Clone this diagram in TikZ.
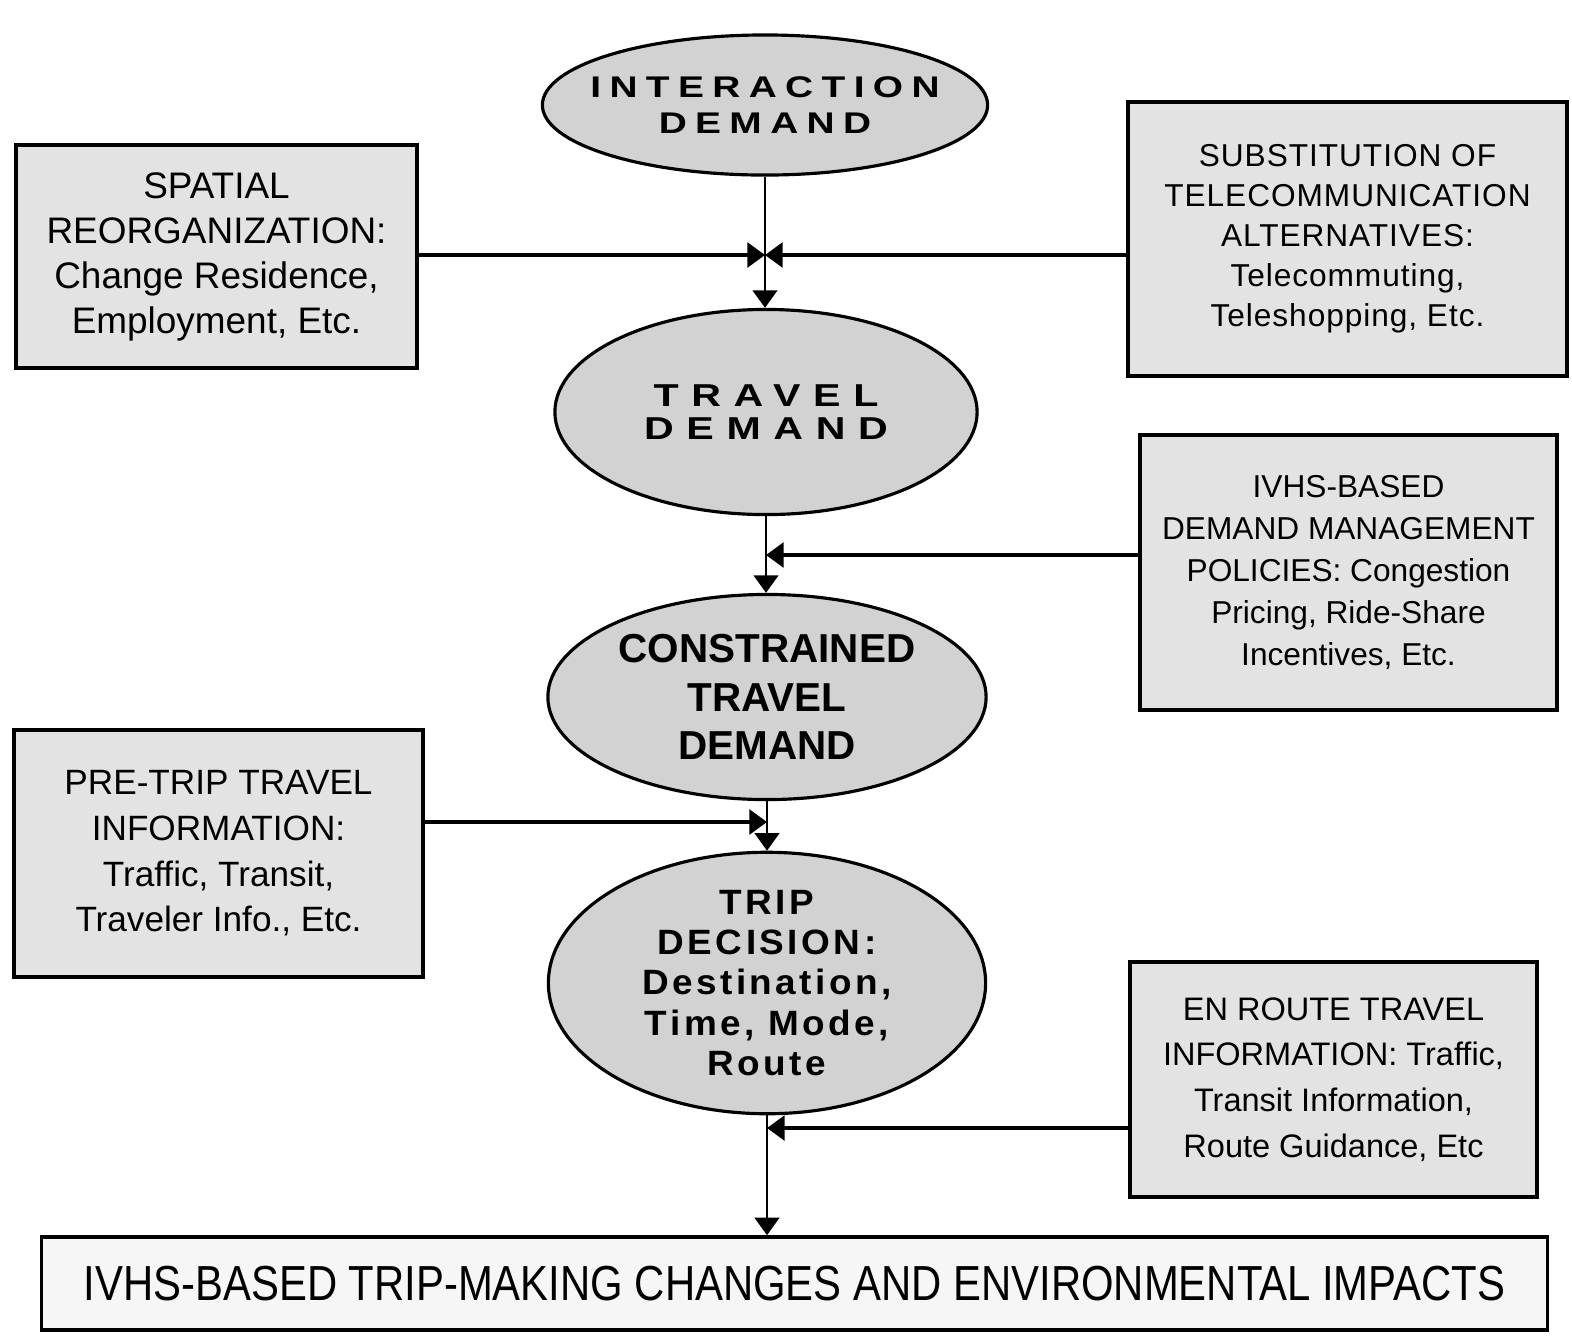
\documentclass[tikz,border=0pt]{standalone}
\usepackage{fontspec}
\setmainfont{Liberation Sans}
\newfontfamily\ellA[LetterSpace=28,FakeStretch=1.3]{Liberation Sans}
\newfontfamily\ellB[LetterSpace=40,FakeStretch=1.3]{Liberation Sans}
\newfontfamily\ellD[LetterSpace=10,FakeStretch=1.05]{Liberation Sans}
\newfontfamily\boxR[LetterSpace=3]{Liberation Sans}
\newfontfamily\bottomf[FakeStretch=0.85]{Liberation Sans}
\usetikzlibrary{shapes.geometric,arrows.meta}
\begin{document}
\begin{tikzpicture}[x=0.01cm,y=-0.01cm,
  ell/.style={ellipse, draw, line width=0.9pt, fill=gray!35, inner sep=0pt, align=center},
  bx/.style={rectangle, draw, line width=1pt, fill=gray!22, inner sep=0pt, align=center},
  arr/.style={-{Triangle[length=5pt,width=7pt]}, line width=0.7pt},
  harr/.style={-{Triangle[length=5pt,width=7pt]}, line width=1pt}]
\useasboundingbox (0,0) rectangle (1572,1335);

% ellipses
\node[ell, inner xsep=-10pt, minimum width=4.45cm, minimum height=1.40cm,
      font=\ellA\bfseries\fontsize{8.5}{10}\selectfont] (e1) at (765,105) {INTERACTION\\DEMAND};
\node[ell, minimum width=4.22cm, minimum height=2.05cm,
      font=\ellB\bfseries\fontsize{9}{9.4}\selectfont] (e2) at (766,412) {TRAVEL\\DEMAND};
\node[ell, minimum width=4.38cm, minimum height=2.05cm,
      font=\bfseries\fontsize{11.5}{13.7}\selectfont] (e3) at (767,697) {CONSTRAINED\\TRAVEL\\DEMAND};
\node[ell, minimum width=4.37cm, minimum height=2.33cm,
      font=\ellD\bfseries\fontsize{10}{11.4}\selectfont] (e4) at (767,983) {TRIP\\DECISION:\\Destination,\\Time, Mode,\\Route};

% boxes
\node[bx, minimum width=4.01cm, minimum height=2.23cm,
      font=\fontsize{10.5}{12.8}\selectfont] (l1) at (216.5,256.5)
  {SPATIAL\\REORGANIZATION:\\Change Residence,\\Employment, Etc.};
\node[bx, minimum width=4.39cm, minimum height=2.74cm,
      font=\boxR\fontsize{9}{11.4}\selectfont] (r1) at (1347.5,239)
  {SUBSTITUTION OF\\TELECOMMUNICATION\\ALTERNATIVES:\\Telecommuting,\\Teleshopping, Etc.};
\node[bx, minimum width=4.17cm, minimum height=2.75cm,
      font=\fontsize{9}{12}\selectfont] (r2) at (1348.5,572.5)
  {IVHS-BASED\\DEMAND MANAGEMENT\\POLICIES: Congestion\\Pricing, Ride-Share\\Incentives, Etc.};
\node[bx, minimum width=4.09cm, minimum height=2.47cm,
      font=\fontsize{10}{13}\selectfont] (l2) at (218.5,853.5)
  {PRE-TRIP TRAVEL\\INFORMATION:\\Traffic, Transit,\\Traveler Info., Etc.};
\node[bx, minimum width=4.07cm, minimum height=2.35cm,
      font=\fontsize{9.25}{13}\selectfont] (r3) at (1333.5,1079.5)
  {EN ROUTE TRAVEL\\INFORMATION: Traffic,\\Transit Information,\\Route Guidance, Etc};
\node[bx, fill=gray!7, minimum width=15.05cm, minimum height=0.93cm,
      font=\bottomf\fontsize{14}{14}\selectfont] (b) at (794.5,1283.5)
  {IVHS-BASED TRIP-MAKING CHANGES AND ENVIRONMENTAL IMPACTS};

% junction points
\coordinate (y1) at (0,255);
\coordinate (y2) at (0,555);
\coordinate (y3) at (0,822);
\coordinate (y4) at (0,1128);
\coordinate (j1) at (e1.south |- y1);
\coordinate (j2) at (e2.south |- y2);
\coordinate (j3) at (e3.south |- y3);
\coordinate (j4) at (e4.south |- y4);

% vertical flow
\draw[arr] (e1.south) -- (e1.south |- e2.north);
\draw[arr] (e2.south) -- (e2.south |- e3.north);
\draw[arr] (e3.south) -- (e3.south |- e4.north);
\draw[arr] (e4.south) -- (e4.south |- b.north);

% side inputs
\draw[harr] (l1.east |- j1) -- (j1);
\draw[harr] (r1.west |- j1) -- (j1);
\draw[harr] (r2.west |- j2) -- (j2);
\draw[harr] (l2.east |- j3) -- (j3);
\draw[harr] (r3.west |- j4) -- (j4);
\end{tikzpicture}
\end{document}
